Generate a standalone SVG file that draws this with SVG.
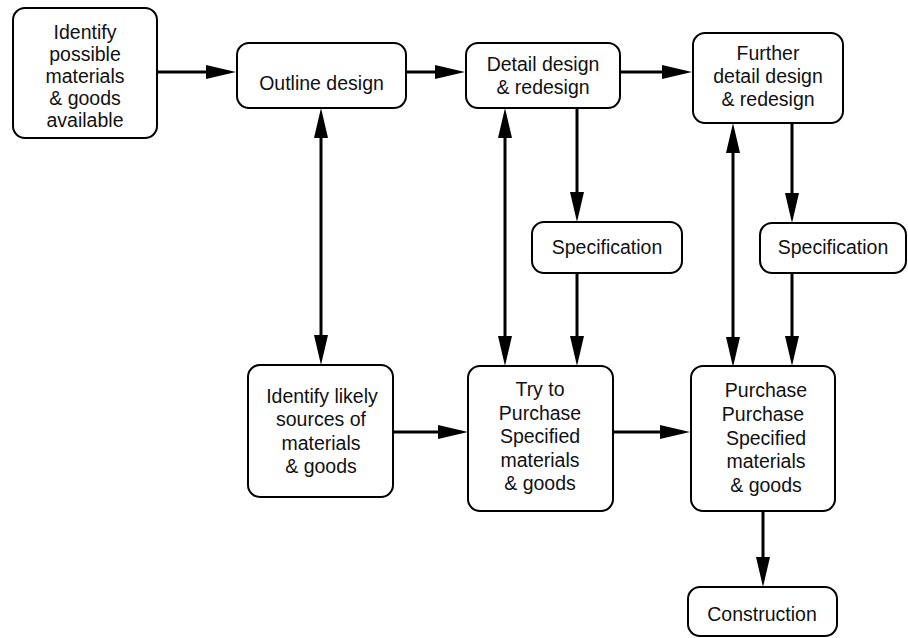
<svg xmlns="http://www.w3.org/2000/svg" width="908" height="638" viewBox="0 0 908 638">
<style>
.box{fill:#fff;stroke:#000;stroke-width:2}
.t{font-family:"Liberation Sans",Arial,sans-serif;font-size:19.5px;fill:#111;text-anchor:middle}
.c{stroke:#000;stroke-width:3;fill:none}
.a{marker-end:url(#ah)}
.b{marker-start:url(#ah);marker-end:url(#ah)}
</style>
<defs>
<marker id="ah" viewBox="0 0 30 14" refX="20" refY="7" markerWidth="30" markerHeight="14" markerUnits="userSpaceOnUse" orient="auto-start-reverse">
<path d="M0,0 L30,7 L0,14 z" fill="#000"/>
</marker>
</defs>
<rect width="908" height="638" fill="#fff"/>
<g id="connectors">
<line class="c a" x1="157" y1="72" x2="226" y2="72"/>
<line class="c a" x1="406" y1="72" x2="455" y2="72"/>
<line class="c a" x1="620" y1="72" x2="682" y2="72"/>
<line class="c b" x1="321" y1="118" x2="321" y2="355"/>
<line class="c b" x1="505" y1="118" x2="505" y2="356"/>
<line class="c a" x1="577" y1="108" x2="577" y2="212"/>
<line class="c a" x1="577" y1="273" x2="577" y2="356"/>
<line class="c b" x1="733" y1="133" x2="733" y2="357"/>
<line class="c a" x1="792" y1="123" x2="792" y2="213"/>
<line class="c a" x1="792" y1="273" x2="792" y2="356"/>
<line class="c a" x1="393" y1="432" x2="458" y2="432"/>
<line class="c a" x1="613" y1="432" x2="680" y2="432"/>
<line class="c a" x1="763" y1="511" x2="763" y2="577"/>
</g>
<g id="n1"><rect class="box" x="13" y="8" width="144" height="130" rx="12"/>
<text class="t" x="85"><tspan x="85" y="39">Identify</tspan><tspan x="85" y="61">possible</tspan><tspan x="85" y="83">materials</tspan><tspan x="85" y="105">&amp; goods</tspan><tspan x="85" y="127">available</tspan></text></g>
<g id="outline"><rect class="box" x="237" y="43" width="169" height="65" rx="12"/>
<text class="t" x="321.5" y="90">Outline design</text></g>
<g id="detail"><rect class="box" x="466" y="43" width="154" height="65" rx="12"/>
<text class="t"><tspan x="543" y="71">Detail design</tspan><tspan x="543" y="94">&amp; redesign</tspan></text></g>
<g id="further"><rect class="box" x="693" y="33" width="150" height="90" rx="12"/>
<text class="t"><tspan x="768" y="60">Further</tspan><tspan x="768" y="83">detail design</tspan><tspan x="768" y="106">&amp; redesign</tspan></text></g>
<g id="spec1"><rect class="box" x="532" y="222" width="150" height="51" rx="12"/>
<text class="t" x="607" y="254">Specification</text></g>
<g id="spec2"><rect class="box" x="760" y="223" width="146" height="50" rx="12"/>
<text class="t" x="833" y="254">Specification</text></g>
<g id="idlikely"><rect class="box" x="248" y="365" width="145" height="132" rx="12"/>
<text class="t"><tspan x="322" y="403">Identify likely</tspan><tspan x="321" y="426">sources of</tspan><tspan x="321" y="450">materials</tspan><tspan x="321" y="473">&amp; goods</tspan></text></g>
<g id="try"><rect class="box" x="468" y="366" width="145" height="145" rx="12"/>
<text class="t"><tspan x="540" y="396">Try to</tspan><tspan x="540" y="420">Purchase</tspan><tspan x="540" y="443">Specified</tspan><tspan x="540" y="467">materials</tspan><tspan x="540" y="490">&amp; goods</tspan></text></g>
<g id="purchase"><rect class="box" x="691" y="366" width="144" height="145" rx="12"/>
<text class="t"><tspan x="766" y="397">Purchase</tspan><tspan x="763" y="421">Purchase</tspan><tspan x="766" y="445">Specified</tspan><tspan x="766" y="468">materials</tspan><tspan x="766" y="492">&amp; goods</tspan></text></g>
<g id="construction"><rect class="box" x="688" y="587" width="149" height="49" rx="12"/>
<text class="t" x="762" y="621">Construction</text></g>
</svg>
